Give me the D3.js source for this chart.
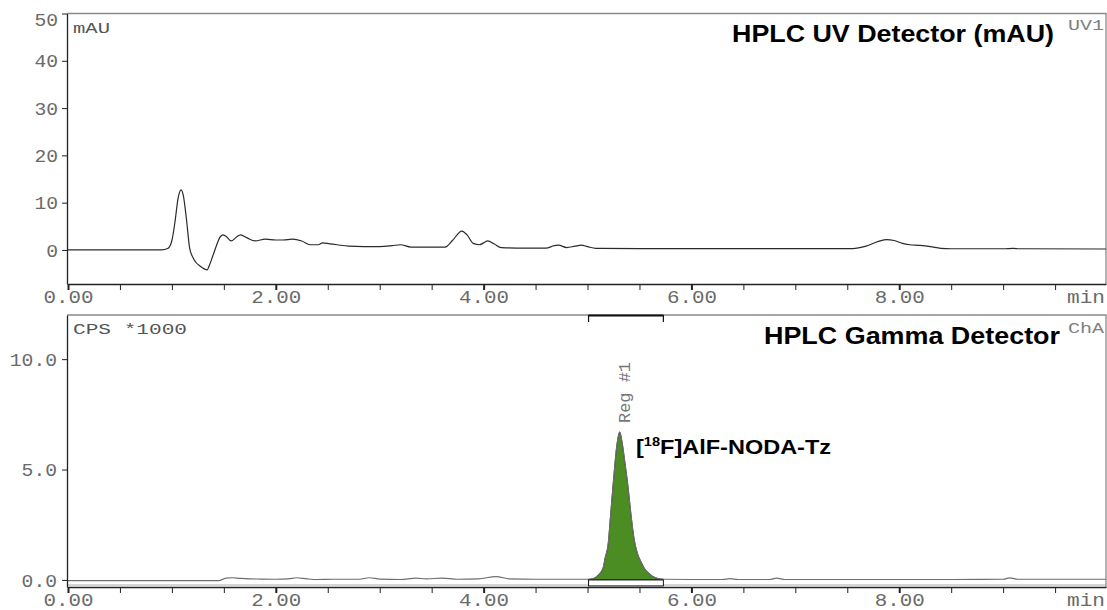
<!DOCTYPE html>
<html>
<head>
<meta charset="utf-8">
<script src="https://cdn.jsdelivr.net/npm/d3@7"></script>
<style>
  body { margin: 0; background: #fff; }
  svg { display: block; }
  .mono { font-family: "Liberation Mono", "Courier New", monospace; }
  .sans { font-family: "Liberation Sans", Arial, sans-serif; }
</style>
</head>
<body>
<svg id="chart" width="1107" height="610"></svg>
<script>
// --- data (time in min) ---
var uvTime = [0, 0.90, 0.96, 1.00, 1.03, 1.06, 1.088, 1.11, 1.14, 1.17, 1.20, 1.23, 1.27, 1.31, 1.34, 1.36,
  1.39, 1.43, 1.46, 1.49, 1.52, 1.57, 1.62, 1.66, 1.72, 1.80, 1.90, 2.00, 2.07, 2.16, 2.25, 2.33, 2.41, 2.45,
  2.52, 2.59, 2.70, 2.85, 3.00, 3.12, 3.20, 3.30, 3.50, 3.63, 3.70, 3.79, 3.84, 3.90, 3.96, 4.00, 4.04, 4.10,
  4.17, 4.40, 4.60, 4.68, 4.72, 4.80, 4.88, 4.94, 5.00, 5.08, 5.50, 6.00, 6.50, 7.00, 7.55, 7.68, 7.80, 7.88,
  7.95, 8.03, 8.10, 8.20, 8.30, 8.40, 8.50, 9.00, 9.10, 9.15, 9.99];
var uvVal = [0, 0, 0.3, 2.0, 6, 11, 12.7, 11.5, 6.5, 0.5, -1.5, -2.6, -3.4, -4.0, -4.2, -3.3,
  -1.5, 1.0, 2.6, 3.2, 2.9, 1.9, 2.7, 3.2, 2.6, 1.9, 2.3, 2.1, 2.1, 2.3, 1.9, 1.1, 1.1, 1.5,
  1.3, 1.1, 0.8, 0.7, 0.7, 0.9, 1.1, 0.6, 0.6, 0.6, 2.0, 4.0, 3.2, 1.4, 1.1, 1.5, 1.9, 1.3,
  0.5, 0.4, 0.4, 0.9, 1.0, 0.5, 0.8, 1.0, 0.7, 0.35, 0.3, 0.3, 0.3, 0.3, 0.3, 0.8, 1.8, 2.2,
  2.0, 1.4, 1.1, 0.95, 0.7, 0.35, 0.25, 0.25, 0.35, 0.25, 0.2];

var gammaTime = [0, 1.45, 1.52, 1.58, 1.66, 1.75, 1.85, 2.00, 2.12, 2.20, 2.30, 2.40, 2.55, 2.80, 2.90, 3.00,
  3.20, 3.35, 3.45, 3.60, 3.75, 3.95, 4.12, 4.25, 4.50, 4.80, 5.01, 5.05, 5.10, 5.15, 5.17, 5.20, 5.22, 5.25,
  5.28, 5.31, 5.33, 5.36, 5.39, 5.41, 5.45, 5.48, 5.52, 5.55, 5.59, 5.63, 5.69, 5.73, 6.00, 6.30, 6.37, 6.45,
  6.75, 6.82, 6.90, 7.50, 8.50, 9.00, 9.06, 9.15, 9.99];
var gammaVal = [-0.03, -0.03, 0.08, 0.1, 0.07, 0.05, 0.04, 0.03, 0.05, 0.1, 0.05, 0.02, 0.03, 0.03, 0.1, 0.04,
  0.02, 0.08, 0.05, 0.08, 0.03, 0.05, 0.15, 0.05, 0.03, 0.03, 0.03, 0.05, 0.2, 0.54, 1.0, 1.67, 2.8, 4.5,
  6.0, 6.7, 6.3, 5.3, 4.2, 3.3, 1.8, 1.2, 0.77, 0.5, 0.3, 0.15, 0.05, 0.03, 0.02, 0.02, 0.06, 0.02,
  0.02, 0.08, 0.02, 0.02, 0.02, 0.03, 0.09, 0.03, 0.03];

var xTicks = d3.range(0, 10, 0.5);
var xLabels = [0, 2, 4, 6, 8];
var uvYTicks = [0, 10, 20, 30, 40, 50];
var gammaYTicks = [0, 5, 10];
var region = [5.01, 5.73];

var uvData = uvTime.map(function (t, i) { return { t: t, v: uvVal[i] }; });
var gammaData = gammaTime.map(function (t, i) { return { t: t, v: gammaVal[i] }; });

var svg = d3.select("#chart");
var x = d3.scaleLinear().domain([0, 9.99]).range([68, 1106]);

function drawPanel(cfg) {
  var y = d3.scaleLinear().domain(cfg.yDomain).range(cfg.yRange);
  var top = cfg.yRange[1], bottom = cfg.yRange[0];
  var g = svg.append("g");

  // grey frame top + right
  g.append("path")
    .attr("d", "M67," + top + "H1106V" + bottom)
    .attr("fill", "none").attr("stroke", "#8a8a8a").attr("stroke-width", 1.3);

  g.append("clipPath").attr("id", cfg.id + "clip")
    .append("rect").attr("x", 67).attr("y", top).attr("width", 1106 - 67).attr("height", bottom - top);

  var plot = g.append("g").attr("clip-path", "url(#" + cfg.id + "clip)");
  if (cfg.extra) cfg.extra(g, plot, y);

  var line = d3.line().x(function (d) { return x(d.t); }).y(function (d) { return y(d.v); })
    .curve(d3.curveMonotoneX);
  plot.append("path").datum(cfg.data)
    .attr("d", line).attr("fill", "none")
    .attr("stroke", cfg.lineColor).attr("stroke-width", 1.2);

  // y axis
  var yAxis = g.append("g").attr("transform", "translate(67,0)")
    .call(d3.axisLeft(y).tickValues(cfg.yTicks).tickSize(5).tickSizeOuter(0).tickFormat(cfg.yFmt));
  yAxis.select(".domain").attr("stroke", "#222").attr("stroke-width", 1.3);
  yAxis.selectAll(".tick line").attr("stroke", "#222");
  yAxis.selectAll("text")
    .attr("class", "mono").attr("font-size", 19).attr("fill", "#6a6a6a")
    .attr("x", cfg.yLabelX)
    .attr("dy", function (d) { return y(d) - top < 5 ? "0.62em" : "0.32em"; })
    .attr("lengthAdjust", "spacingAndGlyphs")
    .attr("textLength", function (d) { return cfg.yFmt(d).length * 11.8; });

  // x axis
  var xAxis = g.append("g").attr("transform", "translate(0," + bottom + ")")
    .call(d3.axisBottom(x).tickValues(xTicks).tickSize(6).tickSizeOuter(0)
      .tickFormat(function (d) { return xLabels.indexOf(d) >= 0 ? d.toFixed(2) : ""; }));
  xAxis.select(".domain").attr("stroke", "#222").attr("stroke-width", 1.5);
  xAxis.selectAll(".tick line").attr("stroke", "#222")
    .attr("stroke-width", function (d) { return xLabels.indexOf(d) >= 0 ? 2 : 1; });
  xAxis.selectAll(".tick text").filter(function (d) { return xLabels.indexOf(d) < 0; }).remove();
  xAxis.selectAll(".tick text")
    .attr("class", "mono").attr("font-size", 18).attr("fill", "#6a6a6a")
    .attr("y", cfg.xLabelY).attr("dy", 0)
    .attr("lengthAdjust", "spacingAndGlyphs").attr("textLength", 50);
  g.append("text").attr("class", "mono").attr("font-size", 18).attr("fill", "#6a6a6a")
    .attr("x", 1086).attr("y", bottom + cfg.xLabelY).attr("text-anchor", "middle")
    .attr("lengthAdjust", "spacingAndGlyphs").attr("textLength", 38).text("min");

  // unit label, title, channel tag
  g.append("text").attr("class", "mono").attr("font-size", 15).attr("fill", "#555")
    .attr("x", 73).attr("y", cfg.unitY)
    .attr("lengthAdjust", "spacingAndGlyphs").attr("textLength", cfg.unitW).text(cfg.unit);
  g.append("text").attr("class", "sans").attr("font-size", 24).attr("font-weight", "bold").attr("fill", "#000")
    .attr("x", cfg.titleX).attr("y", cfg.titleY).attr("text-anchor", "end")
    .attr("lengthAdjust", "spacingAndGlyphs").attr("textLength", cfg.titleW).text(cfg.title);
  g.append("text").attr("class", "mono").attr("font-size", 14).attr("fill", "#808080")
    .attr("x", 1068).attr("y", cfg.tagY)
    .attr("lengthAdjust", "spacingAndGlyphs").attr("textLength", 36).text(cfg.tag);
}

drawPanel({
  id: "uv", data: uvData, lineColor: "#2a2a2a",
  yDomain: [-7.2, 50], yRange: [284, 13.5], yTicks: uvYTicks, yFmt: d3.format("d"), yLabelX: -9,
  xLabelY: 19,
  unit: "mAU", unitY: 33, unitW: 37,
  title: "HPLC UV Detector (mAU)", titleX: 1054, titleY: 42, titleW: 322,
  tag: "UV1", tagY: 30
});

drawPanel({
  id: "gamma", data: gammaData, lineColor: "#6e6e6e",
  yDomain: [-0.32, 12], yRange: [587, 315], yTicks: gammaYTicks, yFmt: d3.format(".1f"), yLabelX: -10,
  xLabelY: 19,
  unit: "CPS *1000", unitY: 334, unitW: 114,
  title: "HPLC Gamma Detector", titleX: 1060, titleY: 344, titleW: 296,
  tag: "ChA", tagY: 333,
  extra: function (g, plot, y) {
    var peak = gammaData.filter(function (d) { return d.t >= region[0] && d.t <= region[1]; });
    var area = d3.area().x(function (d) { return x(d.t); }).y0(y(0)).y1(function (d) { return y(d.v); })
      .curve(d3.curveMonotoneX);
    plot.append("path").datum(peak).attr("d", area).attr("fill", "#4b8c23")
      .attr("stroke", "#1e2a14").attr("stroke-width", 0.8);
    // thin grey line just above the axis
    g.append("line").attr("x1", 67).attr("x2", 1106).attr("y1", 585).attr("y2", 585)
      .attr("stroke", "#aaa").attr("stroke-width", 1);
    // region markers
    var x0 = x(region[0]), x1 = x(region[1]);
    g.append("path").attr("d", "M" + x0 + ",322V315.5H" + x1 + "V322")
      .attr("fill", "none").attr("stroke", "#111").attr("stroke-width", 1.2);
    g.append("line").attr("x1", x0).attr("x2", x1).attr("y1", 315.5).attr("y2", 315.5)
      .attr("stroke", "#111").attr("stroke-width", 2);
    g.append("rect").attr("x", x0).attr("y", y(0)).attr("width", x1 - x0).attr("height", 6)
      .attr("fill", "#fff").attr("stroke", "#111").attr("stroke-width", 1);
    g.append("text").attr("class", "mono").attr("font-size", 16).attr("fill", "#777")
      .attr("transform", "translate(630,423) rotate(-90)")
      .attr("lengthAdjust", "spacingAndGlyphs").attr("textLength", 61).text("Reg #1");
    var lbl = g.append("text").attr("class", "sans").attr("font-weight", "bold").attr("font-size", 21)
      .attr("transform", "translate(636,454) scale(1.12,1)");
    lbl.append("tspan").text("[");
    lbl.append("tspan").attr("font-size", 13).attr("dy", -8).text("18");
    lbl.append("tspan").attr("dy", 8).text("F]AlF-NODA-Tz");
  }
});
</script>
</body>
</html>
